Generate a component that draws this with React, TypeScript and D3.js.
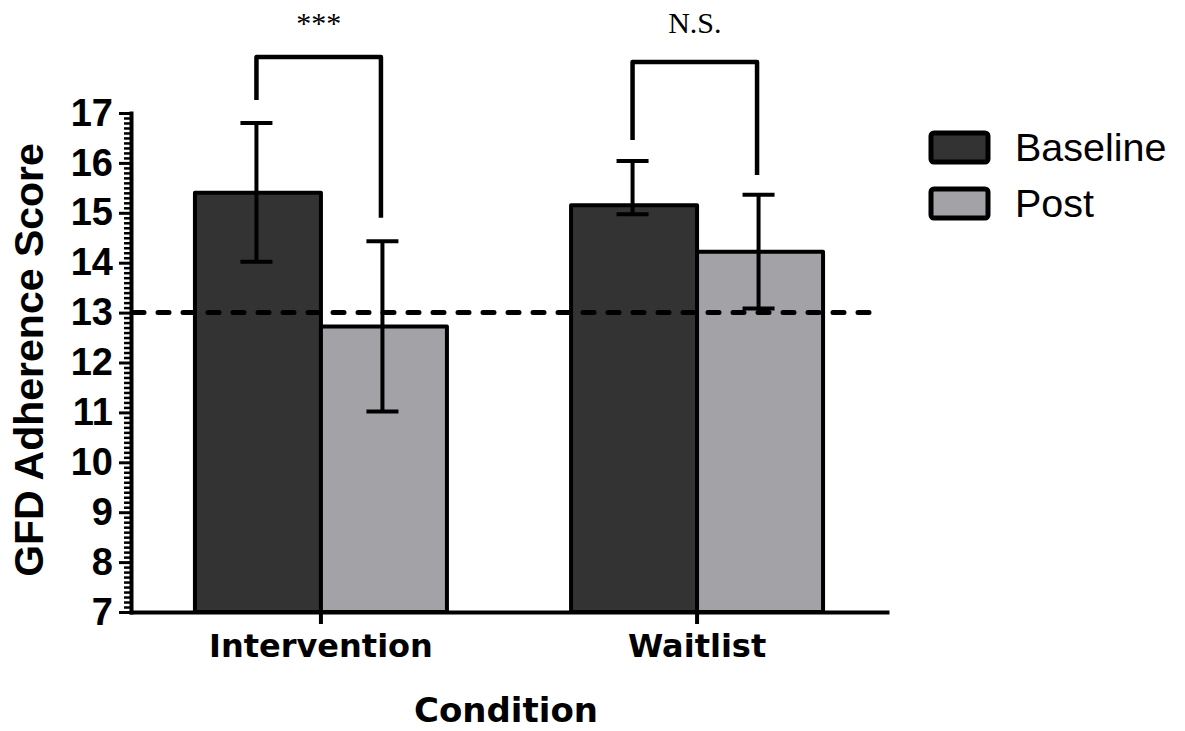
import React, { useEffect, useRef } from 'react';
import * as d3 from 'd3';

// chart values
const categories = ['Intervention', 'Waitlist'];
const groups = ['Baseline', 'Post'];
const baselineMeans = [15.4, 15.15];
const postMeans = [12.72, 14.22];
const baselineLow = [14.02, 14.97];
const baselineHigh = [16.8, 16.04];
const postLow = [11.02, 13.08];
const postHigh = [14.43, 15.36];
const yTicks = [7, 8, 9, 10, 11, 12, 13, 14, 15, 16, 17];
const cutoff = 13;
const sigLabels = ['***', 'N.S.'];
const bracketTop = [18.12, 18.02];
const bracketLeftEnd = [17.26, 16.46];
const bracketRightEnd = [14.9, 15.76];

const colors = { Baseline: '#333333', Post: '#a3a2a7' };

const W = 1185;
const H = 731;

const App = () => {
  const svgRef = useRef(null);

  useEffect(() => {
    const svg = d3.select(svgRef.current);
    svg.selectAll('*').remove();

    const x0 = 131;
    const x1 = 887;
    const yTop = 113;
    const yBottom = 612;

    const y = d3.scaleLinear().domain([7, 17]).range([yBottom, yTop]);
    const x = d3
      .scaleBand()
      .domain(categories)
      .range([x0, x1])
      .paddingInner(0.33)
      .paddingOuter(0.17);
    const xInner = d3.scaleBand().domain(groups).range([0, x.bandwidth()]);

    const rows = categories.flatMap((c, i) => [
      { cat: c, group: 'Baseline', mean: baselineMeans[i], lo: baselineLow[i], hi: baselineHigh[i] },
      { cat: c, group: 'Post', mean: postMeans[i], lo: postLow[i], hi: postHigh[i] },
    ]);
    const cx = d => x(d.cat) + xInner(d.group) + xInner.bandwidth() / 2 - 1.5;

    // bars
    svg
      .append('g')
      .selectAll('rect')
      .data(rows)
      .enter()
      .append('rect')
      .attr('x', d => x(d.cat) + xInner(d.group))
      .attr('width', xInner.bandwidth())
      .attr('y', d => y(d.mean))
      .attr('height', d => y(7) - y(d.mean))
      .attr('fill', d => colors[d.group])
      .attr('stroke', '#000')
      .attr('stroke-width', 4)
      .attr('stroke-linejoin', 'round');

    // error bars
    const capW = 32;
    const eb = svg.append('g').attr('stroke', '#000').attr('stroke-width', 4);
    rows.forEach(d => {
      eb.append('line').attr('x1', cx(d)).attr('x2', cx(d)).attr('y1', y(d.lo)).attr('y2', y(d.hi));
      [d.lo, d.hi].forEach(v => {
        eb.append('line')
          .attr('x1', cx(d) - capW / 2)
          .attr('x2', cx(d) + capW / 2)
          .attr('y1', y(v))
          .attr('y2', y(v));
      });
    });

    // cutoff line
    svg
      .append('line')
      .attr('x1', x0 + 2)
      .attr('x2', 882)
      .attr('y1', y(cutoff))
      .attr('y2', y(cutoff))
      .attr('stroke', '#000')
      .attr('stroke-width', 5)
      .attr('stroke-dasharray', '11,14')
      .attr('stroke-linecap', 'round');

    // significance brackets
    categories.forEach((c, i) => {
      const xl = x(c) + xInner('Baseline') + xInner.bandwidth() / 2 - 1.5;
      const xr = x(c) + xInner('Post') + xInner.bandwidth() / 2 - 3;
      svg
        .append('path')
        .attr(
          'd',
          `M${xl},${y(bracketLeftEnd[i])}V${y(bracketTop[i])}H${xr}V${y(bracketRightEnd[i])}`
        )
        .attr('fill', 'none')
        .attr('stroke', '#000')
        .attr('stroke-width', 4.5)
        .attr('stroke-linejoin', 'round');
      svg
        .append('text')
        .attr('x', (xl + xr) / 2)
        .attr('y', 33)
        .attr('text-anchor', 'middle')
        .attr('font-family', '"Liberation Serif", serif')
        .attr('font-size', 30)
        .text(sigLabels[i]);
    });

    // y axis
    const yAxis = svg
      .append('g')
      .attr('transform', `translate(${x0},0)`)
      .call(d3.axisLeft(y).tickValues(yTicks).tickSize(12).tickSizeOuter(0).tickPadding(6));
    yAxis.select('.domain').attr('stroke-width', 4).attr('stroke-linecap', 'square');
    yAxis.selectAll('.tick line').attr('stroke-width', 3);
    yAxis
      .selectAll('text')
      .attr('font-family', '"Liberation Sans", Arial, sans-serif')
      .attr('font-weight', 'bold')
      .attr('font-size', 38)
      .attr('fill', '#000');

    const minor = d3.range(70, 171).map(v => v / 10).filter(v => !yTicks.includes(v));
    svg
      .append('g')
      .attr('transform', `translate(${x0},0)`)
      .call(d3.axisLeft(y).tickValues(minor).tickSize(7).tickSizeOuter(0).tickFormat(() => ''))
      .call(g => g.select('.domain').remove())
      .selectAll('.tick line')
      .attr('stroke-width', 2.5);

    // x axis
    const xAxis = svg
      .append('g')
      .attr('transform', `translate(0,${yBottom})`)
      .call(d3.axisBottom(x).tickSize(12).tickSizeOuter(0).tickPadding(10));
    xAxis.select('.domain').attr('stroke-width', 4).attr('stroke-linecap', 'square');
    xAxis.selectAll('.tick line').attr('stroke-width', 4);
    xAxis
      .selectAll('text')
      .attr('font-family', '"DejaVu Sans", Verdana, sans-serif')
      .attr('font-weight', 'bold')
      .attr('font-size', 32)
      .attr('fill', '#000');

    // axis titles
    svg
      .append('text')
      .attr('transform', `translate(43,360) rotate(-90)`)
      .attr('text-anchor', 'middle')
      .attr('font-family', '"Liberation Sans", Arial, sans-serif')
      .attr('font-weight', 'bold')
      .attr('font-size', 41)
      .text('GFD Adherence Score');

    svg
      .append('text')
      .attr('x', 506)
      .attr('y', 722)
      .attr('text-anchor', 'middle')
      .attr('font-family', '"DejaVu Sans", Verdana, sans-serif')
      .attr('font-weight', 'bold')
      .attr('font-size', 34)
      .text('Condition');

    // legend
    const legend = svg.append('g').attr('transform', 'translate(931,133)');
    groups.forEach((g, i) => {
      const row = legend.append('g').attr('transform', `translate(0,${i * 56})`);
      row
        .append('rect')
        .attr('width', 57)
        .attr('height', 29)
        .attr('rx', 3)
        .attr('fill', colors[g])
        .attr('stroke', '#000')
        .attr('stroke-width', 5);
      row
        .append('text')
        .attr('x', 84)
        .attr('y', 28)
        .attr('font-family', '"Liberation Sans", Arial, sans-serif')
        .attr('font-size', 39.5)
        .text(g);
    });
  }, []);

  return (
    <svg
      ref={svgRef}
      width={W}
      height={H}
      style={{ position: 'absolute', left: 0, top: 0, background: '#fff' }}
    ></svg>
  );
};

export default App;
